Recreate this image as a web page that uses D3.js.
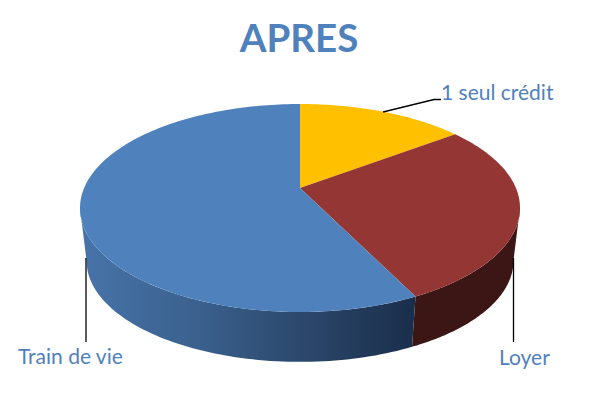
<!DOCTYPE html>
<html><head><meta charset="utf-8">
<script src="https://cdn.jsdelivr.net/npm/d3@7"></script>
<style>html,body{margin:0;padding:0;background:#fff}svg{display:block}</style>
</head><body><div id="c"></div>
<script>
const categories = ["1 seul crédit","Loyer","Train de vie"];
const values = [14.8, 27.9, 57.3];
const topColors = ["#FFC000","#943634","#4F81BD"];
const W=600,H=401;
const svg=d3.select("#c").append("svg").attr("width",W).attr("height",H);
const cx=300, cyBot=261, shrink=0.97;
const arcs=d3.pie().sort(null).value(d=>d)(values);
const tilt=0.1923, B=100.15, K=215.9;
function proj(t,level){
  const u=Math.sin(t), v=-Math.cos(t), d=1-tilt*v;
  const s=level?shrink:1, ay=level?cyBot-20*shrink:188;
  return [cx+s*K*u/d, ay+s*B*v/d];
}
const line=d3.line();
const samples=(a,b,n=80)=>d3.range(n+1).map(i=>a+(b-a)*i/n);
const defs=svg.append("defs");
const g=defs.append("linearGradient").attr("id","wallBlue").attr("gradientUnits","userSpaceOnUse")
  .attr("x1",86).attr("x2",412).attr("y1",0).attr("y2",0);
[[0,"#4673A8"],[0.35,"#3A608D"],[0.7,"#2A4568"],[1,"#1A2F4C"]].forEach(s=>g.append("stop").attr("offset",s[0]).attr("stop-color",s[1]));
const tRight=Math.acos(-tilt), tLeft=2*Math.PI-tRight;
const wallFills=[null,"#3B1614","url(#wallBlue)"];
arcs.forEach((a,i)=>{
  const s=Math.max(a.startAngle,tRight), e=Math.min(a.endAngle,tLeft);
  if(e<=s) return;
  const ts=samples(s,e);
  const pts=ts.map(t=>proj(t,0)).concat(ts.slice().reverse().map(t=>proj(t,1)));
  svg.append("path").attr("d",line(pts)+"Z").attr("fill",wallFills[i]);
});
arcs.forEach((a,i)=>{
  const pts=[[cx,188]].concat(samples(a.startAngle,a.endAngle,160).map(t=>proj(t,0)));
  svg.append("path").attr("d",line(pts)+"Z").attr("fill",topColors[i]);
});
const leaders=[[[383,112],[434,99.5],[441,99.5]],[[513.5,258],[513.5,342]],[[86,258],[86,342]]];
leaders.forEach(l=>svg.append("path").attr("d",line(l)).attr("fill","none").attr("stroke","#000").attr("stroke-width",1.3));
const blue="#4F81BD", font="Lato, sans-serif";
svg.append("text").attr("x",299).attr("y",52).attr("text-anchor","middle").attr("font-family",font).attr("font-weight",700).attr("font-size",38.5).attr("fill",blue).text("APRES");
const labelPos=[[441,100],[499,365],[18,364]];
categories.forEach((c,i)=>svg.append("text").attr("x",labelPos[i][0]).attr("y",labelPos[i][1]).attr("font-family",font).attr("font-size",21).attr("fill",blue).text(c));
</script></body></html>
